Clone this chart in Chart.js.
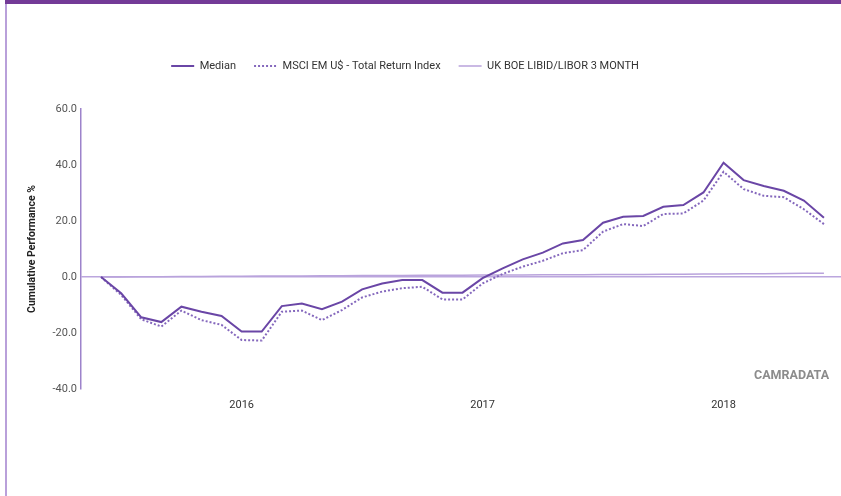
<!DOCTYPE html>
<html><head><meta charset="utf-8">
<script src="https://cdn.jsdelivr.net/npm/chart.js@4"></script>
<style>
html,body{margin:0;padding:0;width:841px;height:496px;overflow:hidden;background:#fff;}
#topbar{position:absolute;left:5px;top:0;width:836px;height:4px;background:#733a97;}
#leftbar{position:absolute;left:5px;top:4px;width:2px;height:492px;background:#b9a0da;}
#wrap{position:absolute;left:0;top:0;width:841px;height:496px;}
#brand{position:absolute;left:754px;top:367px;font:bold 12.5px Roboto, sans-serif;color:#8c8c8c;}
</style></head><body>
<div id="topbar"></div><div id="leftbar"></div>
<div id="wrap"><canvas id="c" width="841" height="496"></canvas></div>
<div id="brand">CAMRADATA</div>
<script>
const months = ['2015-06','2015-07','2015-08','2015-09','2015-10','2015-11','2015-12',
  '2016-01','2016-02','2016-03','2016-04','2016-05','2016-06','2016-07','2016-08','2016-09','2016-10','2016-11','2016-12',
  '2017-01','2017-02','2017-03','2017-04','2017-05','2017-06','2017-07','2017-08','2017-09','2017-10','2017-11','2017-12',
  '2018-01','2018-02','2018-03','2018-04','2018-05','2018-06'];
const yearLabels = ['2016','2017','2018'];
const median = [0, -5.8, -14.4, -16.1, -10.6, -12.4, -13.9, -19.5, -19.5, -10.4, -9.5, -11.5, -8.8, -4.4, -2.3, -1.1, -1.1, -5.6, -5.6, -0.4, 3.1, 6.3, 8.7, 12.0, 13.2, 19.4, 21.5, 21.8, 25.1, 25.7, 30.2, 40.8, 34.6, 32.5, 30.8, 27.3, 21.2];
const msci = [0, -6.4, -15.1, -17.7, -12.0, -15.4, -17.1, -22.5, -22.7, -12.4, -12.0, -15.4, -11.8, -7.3, -5.2, -4.0, -3.5, -8.0, -8.0, -2.3, 1.1, 3.7, 5.8, 8.5, 9.6, 16.2, 18.9, 18.2, 22.5, 22.7, 27.3, 37.6, 31.4, 29.0, 28.5, 24.2, 18.9];
const libor = [0, 0.04, 0.08, 0.12, 0.16, 0.20, 0.24, 0.28, 0.32, 0.36, 0.40, 0.44, 0.48, 0.52, 0.55, 0.58, 0.61, 0.63, 0.66, 0.69, 0.72, 0.74, 0.77, 0.80, 0.83, 0.86, 0.89, 0.93, 0.97, 1.01, 1.05, 1.10, 1.15, 1.20, 1.25, 1.31, 1.36];
const seriesNames = ['Median', 'MSCI EM U$ - Total Return Index', 'UK BOE LIBID/LIBOR 3 MONTH'];

const yearIdx = yearLabels.map(y => months.indexOf(y + '-01'));
const toXY = arr => arr.map((v, i) => ({x: i, y: v}));
const FONT = 'Roboto, "Liberation Sans", sans-serif';

const layoutTweak = {
  id: 'layoutTweak',
  afterLayout(chart) {
    const l = chart.legend;
    const dx = 405 - (l.left + l.right) / 2;
    const dy = 62 - (l.top + l.bottom) / 2;
    l.left += dx; l.right += dx; l.top += dy; l.bottom += dy;
  }
};

new Chart(document.getElementById('c'), {
  type: 'line',
  data: {
    datasets: [
      {label: seriesNames[0], data: toXY(median), borderColor: '#6a46a6', backgroundColor: '#6a46a6', borderWidth: 2, pointRadius: 0, tension: 0},
      {label: seriesNames[1], data: toXY(msci), borderColor: '#8568bd', backgroundColor: '#8568bd', borderWidth: 2, borderDash: [2, 2], pointRadius: 0, tension: 0},
      {label: seriesNames[2], data: toXY(libor), borderColor: '#b9a3dc', backgroundColor: '#b9a3dc', borderWidth: 1.5, pointRadius: 0, tension: 0}
    ]
  },
  options: {
    responsive: false,
    animation: false,
    devicePixelRatio: 1,
    layout: {padding: {left: 0, right: 0, top: 70, bottom: 0}},
    plugins: {
      tooltip: {enabled: false},
      legend: {
        position: 'top',
        labels: {boxWidth: 23, boxHeight: 0, padding: 18, color: '#333', font: {family: FONT, size: 11}}
      }
    },
    scales: {
      x: {
        type: 'linear', min: -1, max: 36.85,
        afterFit(s) { s.height = 107; },
        afterBuildTicks(s) { s.ticks = yearIdx.map(v => ({value: v})); },
        grid: {display: false},
        border: {display: false},
        ticks: {padding: 2, color: '#333', font: {family: FONT, size: 11}, maxRotation: 0,
          callback: v => yearLabels[yearIdx.indexOf(v)]}
      },
      y: {
        min: -40, max: 60,
        afterFit(s) { s.width = 81; },
        grid: {drawTicks: false, lineWidth: 1.5, color: ctx => ctx.tick && ctx.tick.value === 0 ? '#bba6de' : 'rgba(0,0,0,0)'},
        border: {display: true, color: '#9d83cb', width: 1.5},
        ticks: {stepSize: 20, padding: 4, color: '#555', font: {family: FONT, size: 11}, callback: v => Number(v).toFixed(1)},
        title: {display: true, text: 'Cumulative Performance %', color: '#222', font: {family: FONT, size: 10.5, weight: 'bold'}, padding: {top: 26, bottom: 0}}
      }
    }
  },
  plugins: [layoutTweak]
});
</script>
</body></html>
